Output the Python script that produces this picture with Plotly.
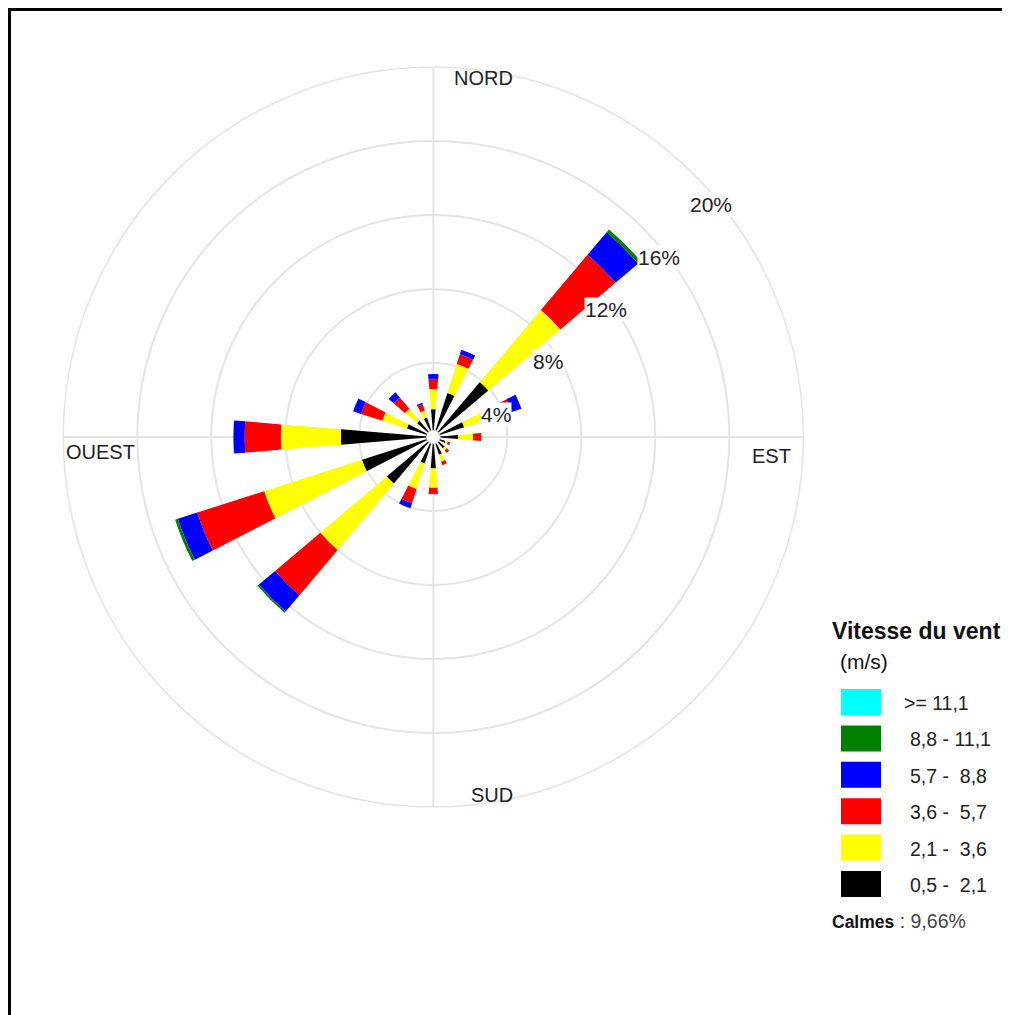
import math
import plotly.graph_objects as go

# ---------------- data ----------------
directions = ["N", "NNE", "NE", "ENE", "E", "ESE", "SE", "SSE",
              "S", "SSW", "SW", "WSW", "W", "WNW", "NW", "NNW"]

# frequency (%) of each speed class per direction (stacked from the centre)
v_05_21 = [1.50, 2.50, 3.90, 1.75, 1.35, 0.70, 0.80, 1.00,
           1.70, 1.50, 3.30, 4.05, 5.00, 1.50, 1.15, 1.10]
v_21_36 = [1.10, 1.65, 5.10, 1.85, 0.80, 0.12, 0.15, 0.40,
           1.04, 1.45, 4.70, 5.55, 3.24, 1.40, 0.85, 0.40]
v_36_57 = [0.55, 0.55, 3.90, 0.85, 0.45, 0.14, 0.18, 0.20,
           0.31, 0.80, 3.20, 3.80, 1.96, 1.20, 0.80, 0.35]
v_57_88 = [0.25, 0.25, 1.60, 0.55, 0.00, 0.00, 0.00, 0.00,
           0.05, 0.30, 1.15, 1.10, 0.60, 0.45, 0.37, 0.10]
v_88_111 = [0.00, 0.00, 0.20, 0.00, 0.00, 0.00, 0.00, 0.00,
            0.00, 0.00, 0.10, 0.15, 0.02, 0.00, 0.00, 0.00]
v_111 = [0.0] * 16

class_labels = ["0,5 -\u00a0 2,1", "2,1 -\u00a0 3,6", "3,6 -\u00a0 5,7",
                "5,7 -\u00a0 8,8", "8,8 - 11,1", ">= 11,1"]
class_colors = ["#000000", "#FFFF00", "#FF0000", "#0000FF", "#008000", "#00FFFF"]
class_values = [v_05_21, v_21_36, v_36_57, v_57_88, v_88_111, v_111]

ring_values = [4, 8, 12, 16, 20]
ring_labels = ["4%", "8%", "12%", "16%", "20%"]
cardinal_labels = ["NORD", "EST", "SUD", "OUEST"]
legend_title = "Vitesse du vent"
legend_unit = "(m/s)"
calm_label = "Calmes"
calm_value = "9,66%"

# ---------------- geometry (page pixels) ----------------
OFF = 8                      # default page margin of the html body
PAGE_W, PAGE_H = 1010, 1015
W, H = PAGE_W - OFF, PAGE_H - OFF
CX, CY, R = 433.3, 437.0, 370.0   # polar centre / outer radius on the page
RMAX = 20.0

theta = [i * 360.0 / len(directions) for i in range(len(directions))]


def px(x):
    return (x - OFF) / W


def py(y):
    return 1 - (y - OFF) / H


fig = go.Figure()
for lab, col, vals in zip(class_labels, class_colors, class_values):
    fig.add_trace(go.Barpolar(
        r=vals, theta=theta, width=9.5, name=lab,
        marker=dict(color=col, line=dict(width=0)),
        showlegend=False,
    ))

# white hub at the centre
fig.add_trace(go.Scatterpolar(
    r=[0], theta=[0], mode="markers",
    marker=dict(size=14, color="white", line=dict(color="#aaaaaa", width=0.6)),
    showlegend=False, hoverinfo="skip",
))

FONT = "Liberation Sans, Arial, sans-serif"
GRID = "#e4e4e4"


def ann(x, y, text, size, xanchor="center", color="#222", **kw):
    return dict(x=px(x), y=py(y), xref="paper", yref="paper",
                xanchor=xanchor, yanchor="middle", text=text,
                showarrow=False, font=dict(family=FONT, size=size, color=color),
                **kw)


annotations = []
# radial ring labels along the NE direction, with white background
for val, txt in zip(ring_values, ring_labels):
    d = val / RMAX * R * math.cos(math.radians(45))
    annotations.append(ann(CX + d - 6, CY - d + 29.5, txt, 21, xanchor="left",
                           bgcolor="white", borderpad=0))

# cardinal labels (inside the outer ring)
card_pos = [(483, 78), (771, 456), (492, 795), (100, 452)]
for txt, (x, y) in zip(cardinal_labels, card_pos):
    annotations.append(ann(x, y, txt, 20))

shapes = []
# custom legend
annotations.append(ann(830, 631, "<b>%s</b>" % legend_title, 23,
                       xanchor="left", color="#111"))
annotations.append(ann(838, 661, legend_unit, 21, xanchor="left", color="#111"))
order = list(range(len(class_labels)))[::-1]
for k, idx in enumerate(order):
    top = 689 + k * 36.4
    shapes.append(dict(type="rect", xref="paper", yref="paper",
                       x0=px(841), x1=px(881), y0=py(top + 26), y1=py(top),
                       fillcolor=class_colors[idx], line=dict(width=0)))
    xl = 902 if k == 0 else 908
    annotations.append(ann(xl, top + 14, class_labels[idx], 19.5, xanchor="left"))
annotations.append(ann(830, 921,
                       "<b><span style='font-size:17.5px'>%s</span></b>"
                       "<span style='color:#444'> : %s</span>" % (calm_label, calm_value),
                       19.5, xanchor="left", color="#111"))

# frame (top and left edges visible)
shapes.append(dict(type="rect", xref="paper", yref="paper",
                   x0=px(9.5), x1=1.2, y0=-0.2, y1=py(9.5),
                   line=dict(color="black", width=3), fillcolor="rgba(0,0,0,0)"))

fig.update_layout(
    width=W, height=H,
    margin=dict(l=0, r=0, t=0, b=0),
    paper_bgcolor="white",
    showlegend=False,
    polar=dict(
        domain=dict(x=[px(CX - R), px(CX + R)], y=[py(CY + R), py(CY - R)]),
        bgcolor="white",
        barmode="stack",
        angularaxis=dict(rotation=90, direction="clockwise",
                         tickmode="array", tickvals=[0, 90, 180, 270],
                         showticklabels=False, ticks="",
                         gridcolor=GRID, gridwidth=1.5,
                         showline=True, linecolor=GRID, linewidth=1.5),
        radialaxis=dict(range=[0, RMAX], tickmode="array",
                        tickvals=ring_values, showticklabels=False,
                        angle=45, showline=False, ticks="",
                        gridcolor=GRID, gridwidth=1.5),
    ),
    annotations=annotations,
    shapes=shapes,
)

fig.write_html("out.html")
